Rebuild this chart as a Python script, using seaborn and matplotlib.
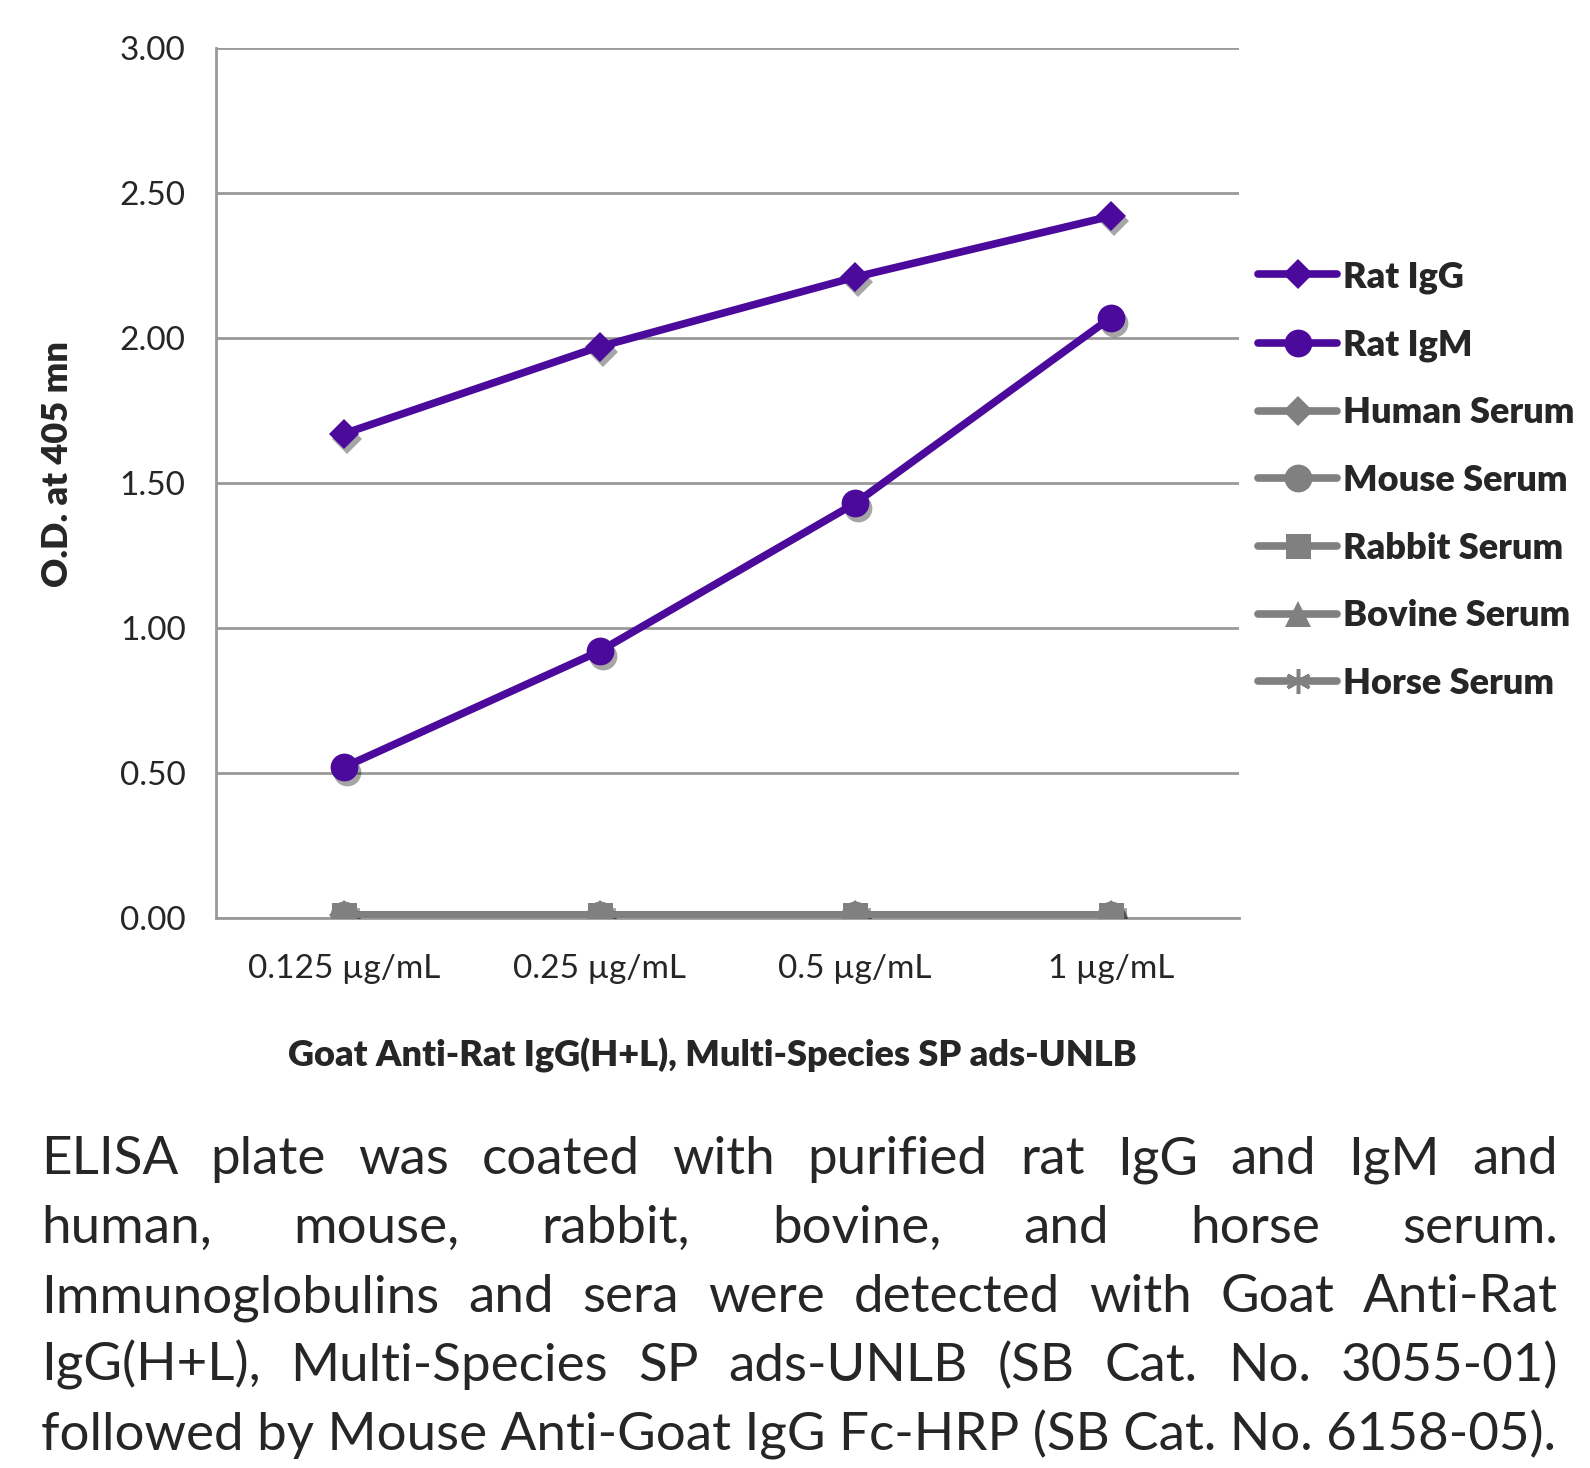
import numpy as np
import pandas as pd
import matplotlib
matplotlib.use("Agg")
import matplotlib.pyplot as plt
import matplotlib.transforms as mtransforms
from matplotlib.ticker import FixedLocator
import seaborn as sns

concentrations = ["0.125 µg/mL", "0.25 µg/mL", "0.5 µg/mL", "1 µg/mL"]
series_names = ["Rat IgG", "Rat IgM", "Human Serum", "Mouse Serum",
                "Rabbit Serum", "Bovine Serum", "Horse Serum"]
rat_igg = [1.67, 1.97, 2.21, 2.42]
rat_igm = [0.52, 0.92, 1.43, 2.07]
human_serum = [0.01, 0.01, 0.01, 0.01]
mouse_serum = [0.01, 0.01, 0.01, 0.01]
rabbit_serum = [0.01, 0.01, 0.01, 0.01]
bovine_serum = [0.01, 0.01, 0.01, 0.01]
horse_serum = [0.01, 0.01, 0.01, 0.01]
y_ticks = [0.0, 0.5, 1.0, 1.5, 2.0, 2.5, 3.0]

caption_lines = [
    "ELISA plate was coated with purified rat IgG and IgM and",
    "human, mouse, rabbit, bovine, and horse serum.",
    "Immunoglobulins and sera were detected with Goat Anti-Rat",
    "IgG(H+L), Multi-Species SP ads-UNLB (SB Cat. No. 3055-01)",
    "followed by Mouse Anti-Goat IgG Fc-HRP (SB Cat. No. 6158-05).",
]

purple = "#4b0a9b"
gray = "#808080"
colors = {"Rat IgG": purple, "Rat IgM": purple, "Human Serum": gray,
          "Mouse Serum": gray, "Rabbit Serum": gray, "Bovine Serum": gray,
          "Horse Serum": gray}
markers = {"Rat IgG": "D", "Rat IgM": "o", "Human Serum": "D", "Mouse Serum": "o",
           "Rabbit Serum": "s", "Bovine Serum": "^", "Horse Serum": (6, 2, 0)}
msizes = {"Rat IgG": 15, "Rat IgM": 20, "Human Serum": 15, "Mouse Serum": 20,
          "Rabbit Serum": 18, "Bovine Serum": 19, "Horse Serum": 18}

values = [rat_igg, rat_igm, human_serum, mouse_serum, rabbit_serum, bovine_serum, horse_serum]
df = pd.DataFrame([
    {"series": name, "conc": c, "od": v}
    for name, vals in zip(series_names, values)
    for c, v in zip(concentrations, vals)
])

sns.set_style("white")
plt.rcParams["font.family"] = ["Lato", "DejaVu Sans"]

fig = plt.figure(figsize=(15.9, 14.68), dpi=100)
ax = fig.add_axes([0.136, 0.3747, 0.643, 0.5926])

# drop shadow for markers
shadow = ax.transData + mtransforms.ScaledTranslation(3 / 100, -5 / 100, fig.dpi_scale_trans)
order = ["Human Serum", "Mouse Serum", "Bovine Serum", "Horse Serum", "Rabbit Serum", "Rat IgM", "Rat IgG"]
handles = {}
for i, name in enumerate(order):
    sub = df[df["series"] == name]
    sns.lineplot(data=sub, x="conc", y="od", ax=ax, color="black", marker=markers[name],
                 markersize=msizes[name], linestyle="none", alpha=0.35, zorder=2 + 2 * i,
                 transform=shadow, markeredgewidth=0, legend=False)
    sns.lineplot(data=sub, x="conc", y="od", ax=ax, color=colors[name], marker=markers[name],
                 markersize=msizes[name], linewidth=5.5, zorder=3 + 2 * i,
                 markeredgecolor=colors[name], markeredgewidth=2.5 if name == "Horse Serum" else 0,
                 legend=False, solid_capstyle="round")
    handles[name] = ax.lines[-1]

ax.set_xlim(-0.5, len(concentrations) - 0.5)
ax.set_ylim(0, 3.0)
ax.set_yticks(y_ticks)
ax.set_yticklabels([f"{t:.2f}" for t in y_ticks], fontsize=24)
ax.set_xticks(range(len(concentrations)))
ax.set_xticklabels(concentrations, fontsize=24)
ax.xaxis.set_minor_locator(FixedLocator(np.arange(-0.5, len(concentrations), 1.0)))
ax.tick_params(axis="x", which="major", length=0, pad=26)
ax.tick_params(axis="x", which="minor", length=12, width=2, color="#999999", direction="out")
ax.tick_params(axis="y", length=10, width=2, color="#999999", direction="out", pad=12)
ax.yaxis.grid(True, color="#999999", linewidth=2)
ax.xaxis.grid(False)
for side in ["top", "right"]:
    ax.spines[side].set_visible(False)
for side in ["left", "bottom"]:
    ax.spines[side].set_color("#999999")
    ax.spines[side].set_linewidth(2)
ax.set_xlabel("")
ax.set_ylabel("")

fig.text(712 / 1590, 1 - 1055 / 1468, "Goat Anti-Rat IgG(H+L), Multi-Species SP ads-UNLB",
         ha="center", va="center", fontsize=26, fontweight="heavy")
fig.text(58 / 1590, 1 - 464 / 1468, "O.D. at 405 mn", rotation=90,
         ha="center", va="center", fontsize=26, fontweight="heavy")

leg = fig.legend([handles[n] for n in series_names], series_names,
                 loc="upper left", bbox_to_anchor=(1258 / 1590, 1 - 260 / 1468),
                 frameon=False, borderpad=0, borderaxespad=0, handlelength=2.2,
                 handletextpad=0.15, labelspacing=0.96, prop={"size": 26, "weight": "heavy"})

# justified caption, font size fitted to the unjustified last line
fig.canvas.draw()
renderer = fig.canvas.get_renderer()
x_left, x_right = 41, 1558
baselines = [1174, 1243, 1312, 1381, 1450]
probe = fig.text(0, 0, caption_lines[-1], fontsize=40)
cap_size = 40 * (x_right - x_left) / probe.get_window_extent(renderer).width
probe.remove()
for li, (line, base) in enumerate(zip(caption_lines, baselines)):
    words = line.split(" ")
    y = 1 - base / 1468
    if li == len(caption_lines) - 1:
        fig.text(x_left / 1590, y, line, ha="left", va="baseline", fontsize=cap_size)
        continue
    texts = [fig.text(0, y, w, ha="left", va="baseline", fontsize=cap_size) for w in words]
    widths = [t.get_window_extent(renderer).width for t in texts]
    gap = ((x_right - x_left) - sum(widths)) / (len(words) - 1)
    x = x_left
    for t, w in zip(texts, widths):
        t.set_x(x / 1590)
        x += w + gap

fig.savefig("out.png", dpi=100)
